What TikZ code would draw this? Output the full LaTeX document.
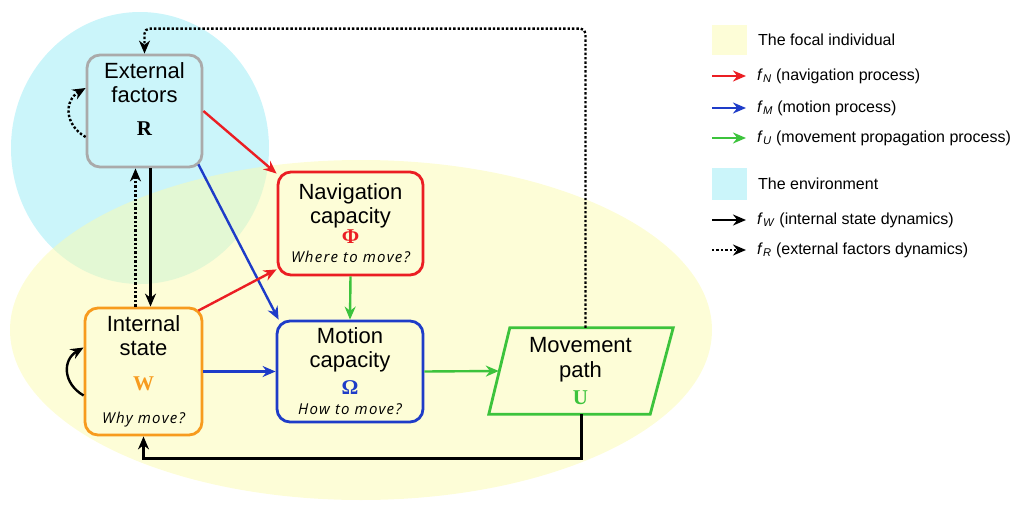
\documentclass[tikz,border=0pt]{standalone}
\usepackage{fontspec}
\setmainfont{Liberation Sans}
\newfontfamily\symfont{Liberation Serif}
\newfontfamily\askfont[LetterSpace=8]{Open Sans}
\usetikzlibrary{arrows.meta}

\definecolor{focalbg}{RGB}{251,251,175}
\definecolor{envbg}{RGB}{203,245,250}
\definecolor{navred}{RGB}{235,30,35}
\definecolor{motblue}{RGB}{30,60,200}
\definecolor{propgreen}{RGB}{60,195,60}
\definecolor{statorange}{RGB}{247,155,30}
\definecolor{extgray}{RGB}{170,170,170}

\newcommand{\bigsym}[2]{{\symfont\bfseries\fontsize{21}{24}\selectfont\color{#1}#2}}
\newcommand{\askline}[1]{{\askfont\itshape\fontsize{15}{17}\selectfont #1}}

\tikzset{
  capbox/.style={draw, rectangle, rounded corners=13pt, line width=2.8pt, align=center,
    inner sep=0pt, font=\fontsize{22}{24}\selectfont},
  flow/.style={line width=2.4pt, -{Stealth[length=13pt,width=11pt]}},
  dotflow/.style={flow, dotted},
  legsq/.style={rectangle, inner sep=0pt, minimum width=35pt},
  legtext/.style={anchor=west, inner sep=0pt, font=\fontsize{16}{18}\selectfont}
}

\begin{document}
\begin{tikzpicture}[x=1pt, y=-1pt]
\useasboundingbox (0,0) rectangle (1013,506);
\fill[envbg] (140,148) ellipse [x radius=129, y radius=136];
\fill[focalbg, fill opacity=0.5] (361,330) ellipse [x radius=351, y radius=170];

\node[capbox, draw=extgray, minimum width=115pt, minimum height=112pt] (R) at (144.5,111)
  {External\\factors\\[9pt]\bigsym{black}{R}\\\mbox{}};
\node[capbox, draw=navred, minimum width=145pt, minimum height=103pt] (Phi) at (350.5,223.5)
  {Navigation\\capacity\\[-4pt]\bigsym{navred}{Φ}\\[-5pt]\askline{Where to move?}};
\node[capbox, draw=statorange, minimum width=117pt, minimum height=127pt] (W) at (143.5,371.5)
  {Internal\\state\\[11pt]\bigsym{statorange}{W}\\[9pt]\askline{Why move?}};
\node[capbox, draw=motblue, minimum width=146pt, minimum height=101pt] (Omega) at (350,371.5)
  {Motion\\capacity\\[3pt]\bigsym{motblue}{Ω}\\[-4pt]\askline{How to move?}};
\node[align=center, inner sep=0pt, font=\fontsize{22}{25}\selectfont, minimum width=163pt, minimum height=86pt] (U) at (580.5,371)
  {Movement\\path\\[2pt]\bigsym{propgreen}{U}};
\draw[propgreen, line width=2.8pt] ([xshift=11pt]U.north west) -- ([xshift=11pt]U.north east)
  -- ([xshift=-12pt]U.south east) -- ([xshift=-10pt]U.south west) -- cycle;

\draw[flow, navred] (R.east) -- ([yshift=-3pt]Phi.north west);
\draw[flow, motblue] ([xshift=-5pt,yshift=4pt]R.south east) -- ([xshift=3pt]Omega.north west);
\draw[flow, navred] ([xshift=-5pt,yshift=-4pt]W.north east) -- ([yshift=7pt]Phi.south west);
\draw[flow, propgreen] (Phi.south) -- (Omega.north);
\draw[flow] ([xshift=6pt]R.south) -- ([xshift=6pt]R.south |- W.north);
\draw[dotflow] ([xshift=-9pt]R.south |- W.north) -- ([xshift=-9pt]R.south);
\draw[flow, motblue] (W.east) -- (Omega.west);
\draw[flow, propgreen] (Omega.east) -- (U.west);
\draw[dotflow, rounded corners=5pt] ([xshift=5pt]U.north) |- ([yshift=25pt]R.north) -- (R.north);
\draw[flow] ([xshift=1pt]U.south) |- ([yshift=-22pt]W.south) -- (W.south);
\draw[dotflow] ([yshift=-26pt]R.west) to[out=150, in=210, looseness=1.3] ([yshift=23pt]R.west);
\draw[flow] ([yshift=-24pt]W.west) to[out=150, in=210, looseness=1.3] ([yshift=24pt]W.west);

\node[legsq, fill=focalbg, fill opacity=0.5, minimum height=30pt] (lgFocal) at (729.5,40) {};
\node[legtext] (lgFocalT) at (758,40) {The focal individual};
\coordinate (lgNs) at (712,76);
\node[legtext] (lgN) at (757,76) {\textit{f}\textsubscript{\textit{N}} (navigation process)};
\coordinate (lgMs) at (712,108);
\node[legtext] (lgM) at (757,108) {\textit{f}\textsubscript{\textit{M}} (motion process)};
\coordinate (lgUs) at (712,138);
\node[legtext] (lgU) at (757,138) {\textit{f}\textsubscript{\textit{U}} (movement propagation process)};
\node[legsq, fill=envbg, minimum height=32pt] (lgEnv) at (729.5,184) {};
\node[legtext] (lgEnvT) at (758,184) {The environment};
\coordinate (lgWs) at (712,220);
\node[legtext] (lgW) at (757,220) {\textit{f}\textsubscript{\textit{W}} (internal state dynamics)};
\coordinate (lgRs) at (712,250);
\node[legtext] (lgR) at (757,250) {\textit{f}\textsubscript{\textit{R}} (external factors dynamics)};
\draw[flow, navred, shorten >=11pt] (lgNs) -- (lgN.west);
\draw[flow, motblue, shorten >=11pt] (lgMs) -- (lgM.west);
\draw[flow, propgreen, shorten >=11pt] (lgUs) -- (lgU.west);
\draw[flow, shorten >=11pt] (lgWs) -- (lgW.west);
\draw[dotflow, shorten >=11pt] (lgRs) -- (lgR.west);
\end{tikzpicture}
\end{document}
